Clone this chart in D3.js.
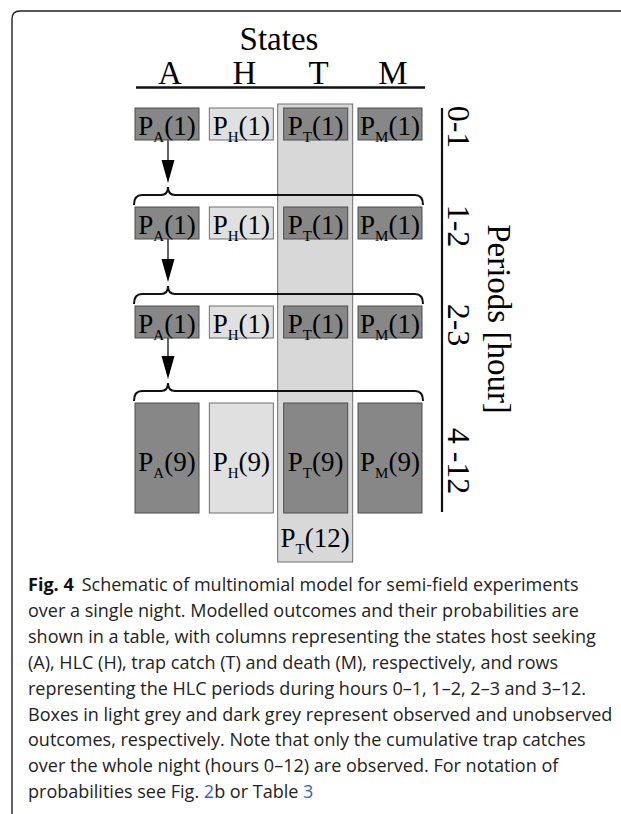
<!DOCTYPE html>
<html>
<head>
<meta charset="utf-8">
<script src="https://cdn.jsdelivr.net/npm/d3@7"></script>
<style>
  html, body { margin: 0; padding: 0; background: #fff; }
  svg { display: block; }
</style>
</head>
<body>
<svg id="chart" width="621" height="814"></svg>
<script>
// ---------- data ----------
const states = ["A", "H", "T", "M"];
const observedStates = ["H"];
const periods = ["0-1", "1-2", "2-3", "4 -12"];
const periodIndex = ["1", "1", "1", "9"];
const cumulativeState = "T";
const cumulativeIndex = "12";
const titleTop = "States";
const titleSide = "Periods [hour]";
const captionLines = [
  [{t: "Fig. 4", b: true}, {t: "Schematic of multinomial model for semi-field experiments", dx: 8}],
  [{t: "over a single night. Modelled outcomes and their probabilities are"}],
  [{t: "shown in a table, with columns representing the states host seeking"}],
  [{t: "(A), HLC (H), trap catch (T) and death (M), respectively, and rows"}],
  [{t: "representing the HLC periods during hours 0\u20131, 1\u20132, 2\u20133 and 3\u201312."}],
  [{t: "Boxes in light grey and dark grey represent observed and unobserved"}],
  [{t: "outcomes, respectively. Note that only the cumulative trap catches"}],
  [{t: "over the whole night (hours 0\u201312) are observed. For notation of"}],
  [{t: "probabilities see Fig. "}, {t: "2", link: true}, {t: "b or Table "}, {t: "3", link: true}]
];

// ---------- layout ----------
const svg = d3.select("#chart");
const serif = "'Liberation Serif', 'Times New Roman', serif";
const DARK = "#878787", LIGHT = "#e0e0e0", COLBG = "#d8d8d8";

const x = d3.scaleBand().domain(states).range([135, 422]).paddingInner(0.139).paddingOuter(0);
const rowTop = d3.scaleOrdinal().domain(periods).range([108, 207, 306, 403]);
const rowH = d3.scaleOrdinal().domain(periods).range([32, 32, 32, 110]);
const rowCenter = p => rowTop(p) + rowH(p) / 2;

// frame
svg.append("path")
  .attr("d", "M12,830 L12,19 Q12,11 20,11 L630,11")
  .attr("fill", "none").attr("stroke", "#222").attr("stroke-width", 1.4);

// header
svg.append("text").attr("x", 279).attr("y", 50).attr("text-anchor", "middle")
  .attr("font-family", serif).attr("font-size", 33).text(titleTop);
svg.selectAll("text.state").data(states).join("text").attr("class", "state")
  .attr("x", d => x(d) + x.bandwidth() / 2 + 3).attr("y", 84).attr("text-anchor", "middle")
  .attr("font-family", serif).attr("font-size", 33).text(d => d);
svg.append("line").attr("x1", x.range()[0] + 1).attr("x2", x.range()[1] + 3)
  .attr("y1", 87.5).attr("y2", 87.5).attr("stroke", "#111").attr("stroke-width", 2.4);

// cumulative column highlight
const lastP = periods[periods.length - 1];
const colX0 = x(cumulativeState) - 6, colX1 = x(cumulativeState) + x.bandwidth() + 5;
svg.append("rect").attr("x", colX0).attr("y", rowTop(periods[0]) - 4)
  .attr("width", colX1 - colX0).attr("height", rowTop(lastP) + rowH(lastP) + 49 - (rowTop(periods[0]) - 4))
  .attr("fill", COLBG).attr("stroke", "#707070").attr("stroke-width", 1);

function pLabel(sel, state, idx) {
  sel.append("tspan").text("P");
  sel.append("tspan").attr("font-size", 15).attr("dy", 7).text(state);
  sel.append("tspan").attr("dy", -7).text("(" + idx + ")");
}

// arrows and braces (drawn beneath boxes)
const ax = x(states[0]) + x.bandwidth() / 2 + 1;
const xL = x.range()[0] - 1, xR = x.range()[1] + 1;
for (let i = 1; i < periods.length; i++) {
  const prevBottom = rowTop(periods[i - 1]) + rowH(periods[i - 1]);
  const nt = rowTop(periods[i]);
  const tipY = nt - 24, triTop = nt - 47;
  svg.append("line").attr("x1", ax).attr("x2", ax).attr("y1", prevBottom).attr("y2", triTop + 2)
    .attr("stroke", "#111").attr("stroke-width", 1.3);
  svg.append("path").attr("d", `M${ax - 6.5},${triTop} L${ax + 6.5},${triTop} L${ax},${tipY} Z`)
    .attr("fill", "#000");
  const ly = nt - 12, py = nt - 20, ey = nt - 2;
  const d = `M${xL},${ey} Q${xL},${ly} ${xL + 8},${ly} L${ax - 7},${ly} Q${ax},${ly} ${ax},${py} ` +
            `Q${ax},${ly} ${ax + 7},${ly} L${xR - 8},${ly} Q${xR},${ly} ${xR},${ey}`;
  svg.append("path").attr("d", d).attr("fill", "none").attr("stroke", "#111").attr("stroke-width", 2);
}

// P_T(12) label
svg.append("text").attr("x", (colX0 + colX1) / 2).attr("y", rowTop(lastP) + rowH(lastP) + 34)
  .attr("text-anchor", "middle").attr("font-family", serif).attr("font-size", 27)
  .call(pLabel, cumulativeState, cumulativeIndex);

// boxes
const cells = [];
periods.forEach((p, i) => states.forEach(s => cells.push({p, s, idx: periodIndex[i]})));
const g = svg.append("g");
g.selectAll("rect.cell").data(cells).join("rect").attr("class", "cell")
  .attr("x", d => x(d.s)).attr("y", d => rowTop(d.p))
  .attr("width", x.bandwidth()).attr("height", d => rowH(d.p))
  .attr("fill", d => observedStates.includes(d.s) ? LIGHT : DARK)
  .attr("stroke", d => observedStates.includes(d.s) ? "#6f6f6f" : "#4c4c4c").attr("stroke-width", 1);
g.selectAll("text.cell").data(cells).join("text").attr("class", "cell")
  .attr("x", d => x(d.s) + x.bandwidth() / 2)
  .attr("y", d => rowCenter(d.p) + (rowH(d.p) > 40 ? 13 : 11))
  .attr("text-anchor", "middle").attr("font-family", serif).attr("font-size", 27)
  .each(function(d) { pLabel(d3.select(this), d.s, d.idx); });

// right axis
const vx = 442;
svg.append("line").attr("x1", vx).attr("x2", vx).attr("y1", rowTop(periods[0]))
  .attr("y2", rowTop(lastP) + rowH(lastP) - 1).attr("stroke", "#111").attr("stroke-width", 2.2);
svg.selectAll("text.period").data(periods).join("text").attr("class", "period")
  .attr("transform", d => `translate(448,${rowCenter(d) + 3}) rotate(90)`)
  .attr("text-anchor", "middle").attr("font-family", serif).attr("font-size", 32).text(d => d);
svg.append("text").attr("transform", `translate(488,319) rotate(90)`)
  .attr("text-anchor", "middle").attr("font-family", serif).attr("font-size", 33).text(titleSide);

// caption
const cap = svg.append("g").attr("font-family", "'Open Sans', 'Noto Sans', sans-serif").attr("fill", "#222");
let fs = 18;
const lines = cap.selectAll("text").data(captionLines).join("text")
  .attr("x", 28).attr("y", (d, i) => 591 + i * 25.9).attr("font-size", fs);
lines.each(function(parts) {
  const t = d3.select(this);
  parts.forEach(pt => {
    const sp = t.append("tspan").text(pt.t);
    if (pt.b) sp.attr("font-weight", "bold").attr("fill", "#111");
    if (pt.dx) sp.attr("dx", pt.dx);
    if (pt.link) sp.attr("fill", "#2f63c8");
  });
});
// fit font size so the full-width lines span the measured text block width
const wsum = lines.nodes().slice(0, 8).reduce((a, n) => a + n.getComputedTextLength(), 0);
fs = Math.min(fs * 4432 / wsum, fs * 585 / lines.nodes()[5].getComputedTextLength());
lines.attr("font-size", fs);
</script>
</body>
</html>
